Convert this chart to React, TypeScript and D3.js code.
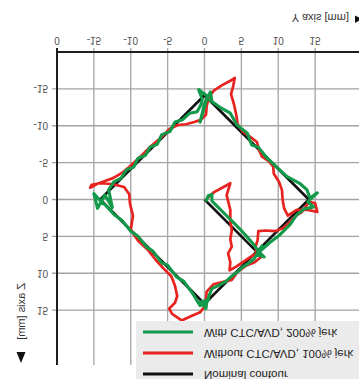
import React, { useEffect } from "react";
import * as d3 from "d3";

// Nominal contour (Y, Z in mm)
const nominalY = [0, 7.07, 0, -14.14, 0, 14.14, 7.07];
const nominalZ = [0, 7.07, 14.14, 0, -14.14, 0, 7.07];

// Without CTC/AVD, 100% jerk
const redY = [0.4, 1.3, 2.4, 3.5, 3.0, 3.5, 3.5, 3.7, 3.5, 3.7, 3.2, 3.5, 3.4, 4.3, 5.5, 6.5, 7.0,
  7.8, 6.8, 5.6, 4.5, 3.7, 2.4, 1.2, 0.3, 0.1, -0.6, -2.0, -3.1, -4.4, -4.8, -4.0, -3.7,
  -4.0, -4.5, -5.6, -6.6, -7.7, -9.0, -10.0, -9.7, -10.1, -10.2, -10.9, -12.5, -14.2, -15.3, -15.5, -14.6, -13.5, -12.4, -11.2,
  -10.1, -8.7, -7.4, -6.0, -4.7, -3.6, -2.5, -1.4, -0.5, 0.2, 0.3, 0.6, 1.3, 2.4, 3.5, 4.1, 3.9, 3.6, 4.0, 4.3, 4.5, 5.2, 6.2, 7.1, 7.4, 7.8, 8.7, 9.3, 9.4, 10.1, 10.5, 10.6, 10.8, 11.3, 12.5, 14.0, 15.3, 15.0, 14.2,
  13.2, 12.4, 11.6, 10.6, 9.6, 8.3, 7.3, 7.2, 6.9, 7.1];
const redZ = [-0.2, -1.0, -1.6, -2.2, -0.6, 1.4, 3.0, 4.2, 5.4, 6.4, 7.3, 8.5, 9.6, 9.1, 8.3, 7.6, 7.4,
  7.7, 8.5, 9.0, 9.8, 10.9, 11.2, 11.5, 12.5, 14.4, 15.3, 15.9, 16.4, 15.5, 14.8, 14.0, 13.1,
  11.7, 10.4, 9.3, 8.2, 6.8, 5.6, 4.1, 2.2, 0.6, -0.7, -1.7, -2.1, -2.2, -2.0, -1.6, -2.1, -2.5, -2.9, -3.6,
  -4.5, -5.8, -7.1, -8.3, -9.6, -10.1, -10.2, -10.5, -10.8, -11.5, -12.7, -13.9, -14.8, -15.5, -16.1, -16.5, -15.4, -14.3, -12.9, -11.5, -10.2, -9.2, -8.5, -7.8, -6.7, -5.8, -5.2, -4.5, -3.5, -2.4, -1.3, 0.1, 1.2, 2.2, 1.4, 1.4, 1.7, 0.5, 0.3,
  1.7, 2.2, 3.1, 3.9, 4.3, 4.2, 4.3, 5.5, 6.5, 7.3];

// With CTC/AVD, 200% jerk
const greenY = [0.2, 0.5, 1.0, 1.0, 1.8, 2.8, 3.7, 4.8, 5.8, 6.6, 7.3, 8.1, 7.1, 7.8, 6.7,
  5.9, 5.1, 4.5, 3.7, 2.9, 2.0, 1.0, 0.6, 0.3, 0.2, -0.5, 0.6, -0.6,
  -1.5, -2.8, -3.8, -5.0, -5.8, -7.0, -7.8, -9.0, -10.0, -11.2, -12.2, -13.3, -14.2, -15.0, -14.5, -13.5, -12.5, -13.0,
  -12.3, -11.3, -10.6, -9.6, -9.0, -8.0, -7.4, -6.4, -5.8, -4.7, -4.0, -3.0, -2.0, -1.0, -0.5, -0.3, -0.8, 0.4, -0.3, -0.6, 0.0, 0.8, 1.0,
  0.7, 2.1, 3.5, 4.4, 5.8, 6.4, 7.3, 8.5, 9.8, 11.2, 12.9, 13.9, 14.3, 15.3, 14.0, 14.8, 13.5,
  12.5, 11.6, 10.2, 8.9, 7.9, 7.3];
const greenZ = [0.3, -0.5, -0.7, 0.2, 1.0, 2.0, 2.9, 4.0, 5.1, 6.0, 7.0, 7.8, 7.4, 6.3, 8.1,
  8.7, 9.2, 9.8, 10.4, 11.1, 11.6, 12.1, 13.1, 14.0, 14.8, 13.9, 13.6, 14.4,
  12.9, 11.1, 10.5, 8.9, 8.6, 7.0, 6.5, 5.0, 4.3, 2.8, 2.1, 0.9, 0.1, -0.8, 1.2, -0.6, 1.1, -1.3,
  -2.4, -2.9, -4.0, -4.4, -5.6, -6.0, -7.1, -7.5, -8.8, -9.2, -10.5, -10.8, -11.7, -11.9, -12.8, -13.6, -14.9, -14.0, -11.5, -10.5, -13.0, -14.6, -13.4,
  -13.5, -12.5, -11.7, -10.1, -9.0, -7.4, -7.1, -5.6, -4.4, -3.1, -2.2, -1.3, -0.2, -0.9, 0.3, 1.0, 1.3,
  2.1, 3.4, 4.8, 5.8, 6.7, 7.2];

const xTicks = [-20, -15, -10, -5, 0, 5, 10, 15];
const xTickLabels = ["0", "-15", "-10", "-5", "0", "5", "10", "15"];
const zTicks = [-15, -10, -5, 0, 5, 10, 15];
const zTickLabels = ["-15", "-10", "-5", "0", "5", "10", "15"];

const legendLabels = ["With CTC\\AVD, 200% jerk", "Without CTC\\AVD, 100% jerk", "Nominal contour"];
const legendColors = ["#12994a", "#e8231f", "#111111"];

const W = 359;
const H = 379;
const FONT = "'Liberation Sans', Arial, sans-serif";

export default function App() {
  useEffect(() => {
    document.body.style.margin = "0";
  }, []);

  const x = d3.scaleLinear().domain([-20, 20]).range([57, 352]);
  const y = d3.scaleLinear().domain([-20, 20]).range([52, 347]);
  const line = d3
    .line<[number, number]>()
    .x((d) => x(d[0]))
    .y((d) => y(d[1]))
    .curve(d3.curveLinear);

  const pts = (a: number[], b: number[]) => a.map((v, i) => [v, b[i]] as [number, number]);

  const flip = (px: number, py: number) => `translate(${px},${py}) scale(1,-1)`;

  const gridV = [-15, -10, -5, 0, 5, 10, 15];
  const gridH = [-15, -10, -5, 0, 5, 10, 15];

  return (
    <svg width={W} height={H} style={{ display: "block", background: "#fff" }} fontFamily={FONT}>
      <rect x={0} y={0} width={W} height={H} fill="#fff" />
      {/* grid */}
      {gridV.map((v) => (
        <line key={"gv" + v} x1={x(v)} x2={x(v)} y1={48} y2={365} stroke="#ababab" strokeWidth={1.4} />
      ))}
      {gridH.map((v) => (
        <line key={"gh" + v} x1={52} x2={W} y1={y(v)} y2={y(v)} stroke="#a3a3a3" strokeWidth={1.3} />
      ))}
      {/* axes */}
      <line x1={x(-20)} x2={W} y1={y(-20)} y2={y(-20)} stroke="#1e1e1e" strokeWidth={2} />
      <line x1={x(-20)} x2={x(-20)} y1={48} y2={365} stroke="#1e1e1e" strokeWidth={2} />
      {/* tick labels top */}
      {xTicks.map((v, i) => (
        <text key={"xt" + i} transform={flip(x(v), 40)} textAnchor="middle" dominantBaseline="central" fontSize={10} fill="#505050">
          {xTickLabels[i]}
        </text>
      ))}
      {zTicks.map((v, i) => (
        <text key={"zt" + i} transform={flip(48, y(v))} textAnchor="end" dominantBaseline="central" fontSize={10} fill="#505050">
          {zTickLabels[i]}
        </text>
      ))}
      {/* axis titles */}
      <text transform={flip(349, 18)} textAnchor="end" dominantBaseline="central" fontSize={11} fill="#333">
        Y axis [mm]
      </text>
      <path d={`M355,15.5 L355,23 L362,19.2 Z`} fill="#111" />
      <text transform={`translate(21,283) scale(1,-1) rotate(-90)`} textAnchor="start" dominantBaseline="central" fontSize={11} fill="#333">
        Z axis [mm]
      </text>
      <path d={`M16.5,352 L25.5,352 L21,363 Z`} fill="#111" />
      {/* data */}
      <path d={line(pts(nominalY, nominalZ)) || ""} fill="none" stroke={legendColors[2]} strokeWidth={2.6} strokeLinejoin="round" />
      <path d={line(pts(redY, redZ)) || ""} fill="none" stroke={legendColors[1]} strokeWidth={2.7} strokeLinejoin="round" />
      <path d={line(pts(greenY, greenZ)) || ""} fill="none" stroke={legendColors[0]} strokeWidth={3.1} strokeLinejoin="round" />
      {/* legend */}
      <rect x={136} y={321} width={W - 136} height={H - 321} fill="#ebebeb" />
      {legendLabels.map((l, i) => (
        <g key={"lg" + i}>
          <line x1={143} x2={193} y1={332 + i * 21} y2={332 + i * 21} stroke={legendColors[i]} strokeWidth={3} />
          <text transform={flip(204, 333 + i * 21)} dominantBaseline="central" fontSize={11.5} fill="#222">
            {l}
          </text>
        </g>
      ))}
    </svg>
  );
}
